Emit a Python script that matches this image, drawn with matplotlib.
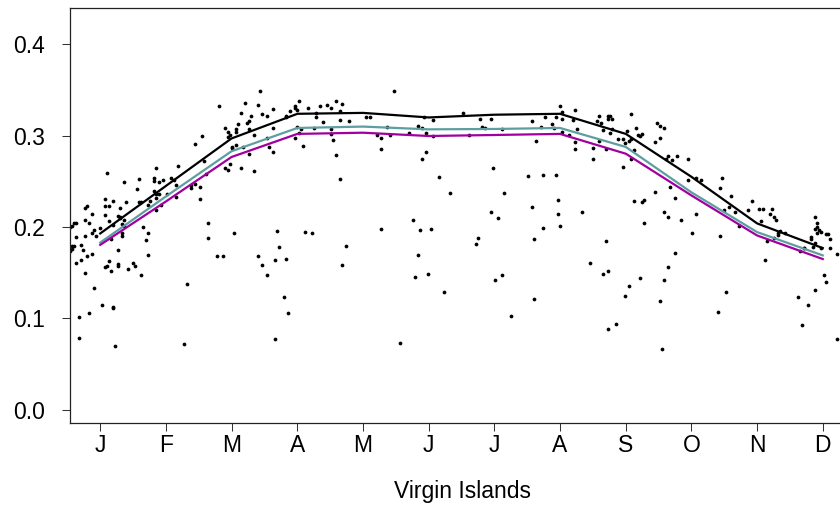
import matplotlib
matplotlib.use("Agg")
import matplotlib.pyplot as plt

# ---- monthly curves (mid-month positions, day of year) ----
month_labels = ["J", "F", "M", "A", "M", "J", "J", "A", "S", "O", "N", "D"]
month_days = [15, 45.4, 75.8, 106.3, 136.7, 167.1, 197.5, 227.9, 258.4, 288.8, 319.2, 349.6]
black_curve = [0.193, 0.245, 0.297, 0.324, 0.325, 0.320, 0.323, 0.324, 0.302, 0.255, 0.204, 0.177]
teal_curve = [0.183, 0.2335, 0.283, 0.3085, 0.310, 0.307, 0.3074, 0.3085, 0.2877, 0.238, 0.1945, 0.169]
magenta_curve = [0.1805, 0.228, 0.2767, 0.302, 0.3033, 0.2997, 0.3008, 0.302, 0.2803, 0.2346, 0.1908, 0.165]

# ---- daily observations (day of year, value) ----
obs_day = [
    18, 41, 51, 26, 33, 40, 40, 42, 44, 48, 49, 32, 57, 57, 50, 50, 46, 40, 41, 41,
    42, 38, 37, 43, 41, 33, 34, 27, 17, 21, 17, 19, 24, 8, 9, 11, 17, 24, 23, 24,
    19, 21, 26, 26, 8, 10, 15, 12, 2, 3, 4, 1, 4, 8, 11, 13, 25, 25, 25, 20,
    35, 37, 36, 2, 2, 3, 1, 6, 7, 11, 9, 6, 4, 37, 23, 19, 17, 18, 20, 23,
    23, 30, 31, 28, 34, 8, 12, 55, 16, 21, 21, 10, 5, 5, 22, 54,
    59, 59, 61, 61, 89, 70, 82, 88, 80, 85, 83, 84, 79, 90, 92, 95, 73, 74, 75, 74,
    78, 78, 84, 86, 62, 76, 76, 78, 81, 92, 93, 95, 84, 95, 101, 101, 103, 105, 105, 106,
    107, 111, 115, 115, 106, 107, 108, 105, 109, 114, 63, 64, 73, 74, 75, 80, 86, 65, 65, 77,
    69, 72, 97, 98, 110, 113, 88, 90, 92, 96, 101, 100, 102, 96,
    117, 118, 151, 120, 122, 124, 127, 126, 126, 130, 122, 122, 123, 124, 126, 138, 140, 148, 143, 145,
    149, 145, 158, 162, 164, 165, 169, 166, 169, 166, 164, 172, 145, 160, 163, 168, 129, 127, 162, 161,
    167, 174, 154,
    177, 183, 191, 196, 192, 193, 201, 186, 215, 219, 221, 224, 225, 226, 228, 229, 229, 229, 232, 217,
    197, 213, 220, 226, 202, 227, 215, 227, 196, 199, 228, 220, 190, 189, 216, 201, 198, 216, 205,
    235, 246, 250, 251, 250, 252, 261, 234, 245, 247, 236, 248, 251, 252, 263, 259, 273, 274, 276, 255,
    257, 258, 260, 261, 262, 264, 265, 266, 235, 235, 246, 243, 243, 249, 257, 261, 274, 272, 277, 278,
    280, 282, 287, 287, 279, 272, 281, 262, 266, 267, 238, 276, 278, 284, 267, 289, 249, 242, 248, 250,
    281, 278, 265, 276, 260, 258, 274, 250, 254, 275,
    291, 293, 303, 302, 307, 306, 304, 309, 311, 291, 302, 305, 301, 317, 315, 320, 322, 326, 325, 327,
    328, 321, 329, 330, 332, 329, 327, 324, 323, 338, 340, 343, 346, 350, 351, 346, 347, 346, 347, 348,
    349, 347, 351, 352, 353, 344, 344, 346, 345, 341, 341, 339, 349, 353, 356, 356,
]
obs_val = [
    0.259, 0.265, 0.267, 0.249, 0.253, 0.254, 0.250, 0.249, 0.251, 0.254, 0.252, 0.242, 0.246, 0.243, 0.246, 0.233, 0.236, 0.239, 0.236, 0.232,
    0.236, 0.229, 0.224, 0.224, 0.219, 0.227, 0.227, 0.227, 0.231, 0.229, 0.223, 0.223, 0.221, 0.221, 0.223, 0.214, 0.213, 0.211, 0.212, 0.210,
    0.207, 0.202, 0.208, 0.201, 0.208, 0.205, 0.199, 0.197, 0.201, 0.204, 0.204, 0.200, 0.189, 0.190, 0.193, 0.190, 0.203, 0.193, 0.190, 0.187,
    0.200, 0.193, 0.186, 0.179, 0.176, 0.179, 0.174, 0.180, 0.175, 0.170, 0.168, 0.164, 0.161, 0.169, 0.175, 0.163, 0.156, 0.157, 0.152, 0.160,
    0.157, 0.161, 0.157, 0.154, 0.147, 0.150, 0.133, 0.138, 0.115, 0.113, 0.111, 0.106, 0.101, 0.079, 0.070, 0.072,
    0.291, 0.247, 0.244, 0.231, 0.349, 0.332, 0.336, 0.334, 0.325, 0.322, 0.314, 0.316, 0.313, 0.324, 0.322, 0.329, 0.308, 0.304, 0.301, 0.299,
    0.307, 0.304, 0.307, 0.301, 0.300, 0.287, 0.288, 0.290, 0.288, 0.297, 0.288, 0.282, 0.280, 0.308, 0.322, 0.321, 0.327, 0.332, 0.330, 0.328,
    0.338, 0.330, 0.320, 0.325, 0.310, 0.303, 0.307, 0.297, 0.289, 0.308, 0.272, 0.258, 0.265, 0.262, 0.269, 0.265, 0.261, 0.204, 0.188, 0.194,
    0.168, 0.168, 0.196, 0.178, 0.195, 0.193, 0.168, 0.158, 0.147, 0.164, 0.165, 0.123, 0.106, 0.077,
    0.332, 0.315, 0.349, 0.334, 0.330, 0.338, 0.335, 0.327, 0.317, 0.316, 0.307, 0.302, 0.295, 0.279, 0.253, 0.321, 0.321, 0.310, 0.301, 0.298,
    0.301, 0.286, 0.303, 0.311, 0.308, 0.321, 0.317, 0.303, 0.300, 0.282, 0.274, 0.255, 0.198, 0.208, 0.197, 0.198, 0.179, 0.158, 0.169, 0.145,
    0.149, 0.129, 0.073,
    0.237, 0.325, 0.318, 0.318, 0.310, 0.308, 0.307, 0.301, 0.316, 0.310, 0.320, 0.313, 0.309, 0.321, 0.332, 0.326, 0.318, 0.304, 0.301, 0.294,
    0.265, 0.256, 0.257, 0.257, 0.237, 0.230, 0.222, 0.214, 0.216, 0.210, 0.201, 0.199, 0.188, 0.182, 0.187, 0.148, 0.142, 0.121, 0.103,
    0.328, 0.322, 0.322, 0.322, 0.318, 0.318, 0.324, 0.317, 0.316, 0.314, 0.307, 0.306, 0.303, 0.307, 0.309, 0.305, 0.314, 0.311, 0.309, 0.296,
    0.296, 0.292, 0.294, 0.296, 0.284, 0.301, 0.300, 0.302, 0.293, 0.285, 0.294, 0.287, 0.275, 0.286, 0.266, 0.274, 0.297, 0.293, 0.274, 0.278,
    0.273, 0.278, 0.274, 0.251, 0.244, 0.238, 0.232, 0.229, 0.227, 0.230, 0.217, 0.216, 0.211, 0.208, 0.204, 0.193, 0.185, 0.161, 0.149, 0.152,
    0.172, 0.156, 0.144, 0.142, 0.136, 0.124, 0.119, 0.088, 0.094, 0.067,
    0.254, 0.251, 0.254, 0.243, 0.234, 0.222, 0.219, 0.216, 0.201, 0.214, 0.190, 0.129, 0.107, 0.229, 0.219, 0.220, 0.220, 0.220, 0.214, 0.211,
    0.208, 0.207, 0.194, 0.196, 0.194, 0.191, 0.188, 0.185, 0.164, 0.123, 0.093, 0.115, 0.131, 0.148, 0.140, 0.211, 0.204, 0.198, 0.200, 0.197,
    0.195, 0.193, 0.192, 0.192, 0.187, 0.189, 0.187, 0.183, 0.178, 0.177, 0.177, 0.174, 0.177, 0.177, 0.170, 0.0775,
]

y_ticks = [0.0, 0.1, 0.2, 0.3, 0.4]
y_tick_labels = ["0.0", "0.1", "0.2", "0.3", "0.4"]
x_title = "Virgin Islands"

plt.rcParams["font.family"] = ["Liberation Sans", "DejaVu Sans"]

fig = plt.figure(figsize=(8.4, 5.31), dpi=100)
ax = fig.add_axes([70 / 840, 108 / 531, 786 / 840, 414.7 / 531])

ax.plot(obs_day, obs_val, linestyle="none", marker="o", markersize=2.7,
        markeredgewidth=0, color="black", zorder=2, clip_on=True)
ax.plot(month_days, black_curve, color="black", linewidth=1.6, zorder=3)
ax.plot(month_days, teal_curve, color="#5F9EA0", linewidth=1.6, zorder=3)
ax.plot(month_days, magenta_curve, color="#A000A0", linewidth=1.6, zorder=3)

ax.set_xlim(1, 365)
ax.set_ylim(-0.0145, 0.4395)

ax.set_yticks(y_ticks)
ax.set_yticklabels(y_tick_labels)
ax.set_xticks(month_days)
ax.set_xticklabels(month_labels)

ax.tick_params(axis="both", direction="out", length=5.8, width=0.75,
               color="#333333", labelsize=16.5)
ax.tick_params(axis="y", pad=12)
ax.tick_params(axis="x", pad=2)

for s in ax.spines.values():
    s.set_linewidth(0.9)
    s.set_color("#222222")

ax.set_xlabel(x_title, fontsize=16.5, labelpad=17)

fig.savefig("out.png", dpi=100)
